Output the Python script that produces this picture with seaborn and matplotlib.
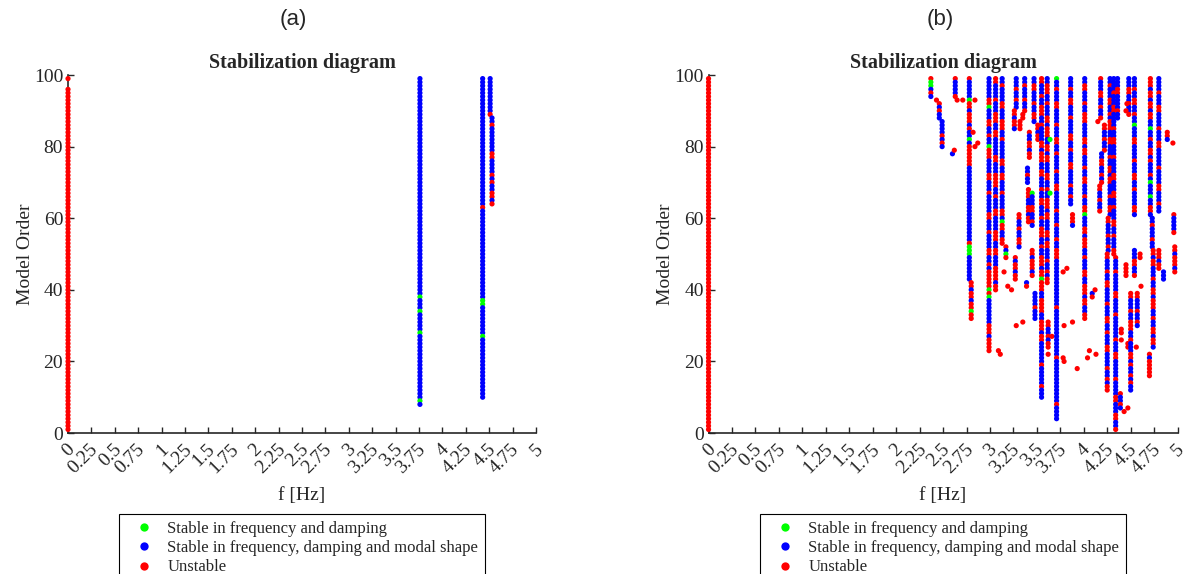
import numpy as np
import pandas as pd
import matplotlib
matplotlib.use("Agg")
import matplotlib.pyplot as plt
import matplotlib.transforms as mtransforms
import seaborn as sns

# legend labels / colours
LABEL_G = "Stable in frequency and damping"
LABEL_B = "Stable in frequency, damping and modal shape"
LABEL_R = "Unstable"
status_labels = {"g": LABEL_G, "b": LABEL_B, "r": LABEL_R}
palette = {LABEL_G: "#00ff00", LABEL_B: "#0000ff", LABEL_R: "#ff0000"}
hue_order = [LABEL_G, LABEL_B, LABEL_R]

panel_titles = ["(a)", "(b)"]
x_ticks = np.arange(0, 5.25, 0.25)
y_ticks = [0, 20, 40, 60, 80, 100]

# chains of poles: (frequency Hz, highest model order, run-length status going down)
# r = unstable, b = stable freq/damping/shape, g = stable freq/damping, . = no pole
chains_a = [
    (0.00, 99, "r1 .2 r96"),
    (3.76, 99, "b61 g1 b3 g1 b5 g1 b18 g1 b1"),
    (4.43, 99, "b36 r1 b25 g2 b8 g1 b17"),
    (4.51, 99, "b10 r1"),
    (4.53, 88, "b2 r1 b7 r2 b4 r1 b1 r1 b2 r2 b1 r1"),
]

chains_b_left = [
    (0.00, 99, "r99"),
    (2.37, 99, "r1 g2 b1 r1 b1"),
    (2.43, 93, "r1"),
    (2.46, 92, "r1 b1 r1 b2"),
    (2.49, 87, "b4 r1 b1 r1 b1"),
    (2.60, 78, "b1"),
    (2.62, 79, "r1"),
    (2.63, 99, "r1 b4 r1"),
    (2.65, 93, "r1"),
    (2.71, 93, "r1"),
    (2.84, 93, "r1"),
    (2.78, 99, "r1 b5 g1 r2 b1 r3 b1 r1 b2 g1 b1 r6 b21 r1 g3 b7"),
    (2.80, 42, "r2 b1 r2 b1 r2 g1 r2"),
    (2.82, 84, "r1"),
    (2.87, 81, "r1"),
    (2.84, 80, "r1"),
    (2.99, 99, "b6 r2 g1 b3 r2 b2 r1 b2 g1 r3 b4 r2 b3 r1 b5 r2 b3 r1 b4 r2 b2 r1 b1 r5 g1 r1 g1 b7 r3 b1 r4"),
    (3.06, 99, "r2 b4 r1 b3 r3 b2 r2 b5 r2 b3 r4 b2 r1 b3 r2 b4 r3 b2 r2 b3 r4 b1 r2"),
    (3.09, 23, "r1"),
    (3.11, 22, "r1"),
    (3.13, 99, "b2 r1 b4 r2 b3 r3 b2 r1 b5 r2 b2 r2 b3 r1 b4 r2 b1 g1 r2 b2 r2"),
    (3.17, 52, "r1 b1 g1 r1"),
    (3.15, 45, "r1"),
    (3.19, 41, "r1"),
    (3.23, 40, "r1"),
]

chains_b_mid = [
    (3.28, 99, "b3 r1 b2 r1 b2"),
    (3.26, 90, "r2 b1 r2 b1"),
    (3.32, 87, "r3"),
    (3.37, 99, "b2 r1 b3 r1 b2 r1"),
    (3.35, 89, "r2"),
    (3.42, 84, "r1 b2 r2 b1 r2"),
    (3.40, 74, "b2 r1 b2"),
    (3.41, 68, "r3 b2 r2 b1 r2"),
    (3.31, 61, "r2 b2 r1 b2 r2 b1"),
    (3.27, 49, "r1 b1 r2 b1 r2"),
    (3.47, 99, "b2 r2 b3 r1 b2 r2 b1"),
    (3.51, 86, "r2 b1 r2"),
    (3.45, 67, "g1 b3 r2 b2 r1 b1"),
    (3.45, 51, "r2 b1 r3 b1 r1"),
    (3.39, 42, "b1 r1"),
    (3.48, 39, "b4 r1 b3"),
    (3.28, 30, "r1"),
    (3.35, 31, "r1"),
    (3.55, 99, "r2 b3 r1 b2 r3 b2 r1 b4 r2 b1 r3 b2 r2 b3 r1 b2 r2 b3 r1 b2 r3 b2 r1 b2 "
               "r3 b1 r2 g1 r3 b2 r4 b2 r3 b1 r2 b6 r1 b5 r1 b3"),
    (3.61, 99, "b2 r3 b2 r1 b3 r2 b1 r3 b2 r2 b1 r2 b3 r2 b2 r1 b2 r3 b1 r2 b3 r2 b1 r2 b3 r1 b2 r1 b1 r2"),
    (3.62, 31, "r2 b2 r1 b1 r2 .1 r1"),
    (3.66, 27, "r1"),
    (3.64, 82, "g1"),
    (3.64, 67, "g1"),
    (3.71, 99, "g1 b2 r1 b3 r2 b4 r1 b3 r2 b2 r1 b4 r1 b3 r2 b5 r1 b3 r1 b3 r1 b2 "
               "r3 b13 r1 b13 r1 b12 r1 b4"),
    (3.86, 99, "b3 r1 b2 r2 b3 r1 b4 r2 b2 r1 b3 r2 b4 r1 b2 r1 b2"),
    (3.88, 61, "r3 b1"),
    (3.78, 45, "r1"),
    (3.82, 46, "r1"),
    (3.79, 30, "r1"),
    (3.88, 31, "r1"),
    (3.78, 21, "r1"),
    (3.79, 20, "r1"),
    (3.93, 18, "r1"),
]

chains_b_right = [
    (4.01, 99, "b2 r2 b3 r1 b2 r3 b4 r2 b1 r2 b3 r1 b2 r2 b3 r1 b2 r2 g1 "
               "b3 r2 b1 r3 b2 r1 b3 r2 b2 r3 b1 r2 b2 r2"),
    (4.04, 21, "r1"),
    (4.06, 23, "r1"),
    (4.13, 22, "r1"),
    (4.09, 39, "b1 r1"),
    (4.12, 40, "r1"),
    (4.18, 99, "r1 b3 r2 b2 r1 b2 r1"),
    (4.15, 87, "r1"),
    (4.22, 86, "r2 b2 r1 b2 r1"),
    (4.19, 78, "b2 r2 b2 r1 b1 r1"),
    (4.17, 69, "r2 b2 r1 b2 r1"),
    (4.28, 99, "b2 r1 b3 r2 b2 r1 b1 r3 b2 r2 b3 r1 b2 r2 b1 r2 b3 r1 b2 r2 b1"),
    (4.26, 60, "r2 b3 r1 b2 r1 b1"),
    (4.25, 50, "r2 b3 r1 b2 r2 b4 r1 b3 r2 b2 r1 b3 r2 b4 r1 b2 r1 b1 r2"),
    (4.32, 99, "b4 r1 b3 r2 b4 r1 b2 r2 b3 r1 b4 r2 b3 r2 b2 r1 b3 r2 b2 r1 b3 r2"),
    (4.36, 99, "b3 r2 b4 r1 b2"),
    (4.34, 49, "r1 b3 r1 b5 r2 b4 r1 b6 r1 b3 r2 b5 r1 b4 r2 b3 r2 b2 r1"),
    (4.39, 11, "r1 b2 r1 b1"),
    (4.43, 6, "r1"),
    (4.47, 7, "r1"),
    (4.40, 29, "r2 .1 r1"),
    (4.45, 47, "r4"),
    (4.47, 25, "r2"),
    (4.48, 99, "b3 r2 b2 r1 b2 r1"),
    (4.46, 92, "r1"),
    (4.45, 90, "r1"),
    (4.50, 39, "r2 b3 r1 b2 r3 b2 r1 b3 r2 b1 r1 b2 r1 b1 r1 b2"),
    (4.54, 99, "b3 r1 b2 r2 b2 r1 b2 g1 b3 r2 b4 r1 b3 r2 b2 r1 b4 r2 b1"),
    (4.54, 51, "b3 r2 b2 r1"),
    (4.57, 39, "r2 b3 r1 b2 r1 b1"),
    (4.56, 24, "r1"),
    (4.60, 50, "r2"),
    (4.61, 41, "r1"),
    (4.71, 99, "r3 b1 r2 b1 r2 b1 r2 b2 g1 b2 r1 b2 r2 b1 r1 b3 r1 b1 g1 b3 g1 b2 r2 b1"),
    (4.73, 60, "b2 r1 b3 r1 b2"),
    (4.74, 51, "r2 b1 r2 b3 r1 b2 r2 b1 r3 b2 r1 b2 r2 b1 r2 b1"),
    (4.70, 22, "r1 b1 r5"),
    (4.80, 99, "b4 r1 b3 r2 b4 r1 b3 r2 b5 r1 b4 r2 b3 r1 b2"),
    (4.80, 51, "r3 b1 r2"),
    (4.85, 45, "b3"),
    (4.89, 84, "r2 b1"),
    (4.95, 81, "r1"),
    (4.96, 61, "r1 b4 r1"),
    (4.97, 52, "r2 b1 r3 b1 r1"),
]


def expand_chains(chains):
    """Turn the run-length chains into one row per pole."""
    rows = []
    for freq, top, pattern in chains:
        order = top
        for tok in pattern.split():
            code, n = tok[0], int(tok[1:])
            for _ in range(n):
                if code != ".":
                    rows.append((freq, order, status_labels[code]))
                order -= 1
    return pd.DataFrame(rows, columns=["freq", "order", "status"])


df_a = expand_chains(chains_a)
df_b = expand_chains(chains_b_left + chains_b_mid + chains_b_right)

sns.set_style("ticks")
plt.rcParams["font.family"] = ["Liberation Serif", "DejaVu Serif"]
axis_color = "#262626"

fig = plt.figure(figsize=(11.89, 5.74), dpi=100)
ax_a = fig.add_axes([0.0572, 0.2456, 0.3936, 0.6237])
ax_b = fig.add_axes([0.5959, 0.2456, 0.3945, 0.6237])

# rotated x labels: end of the text a bit right of / below the tick (matlab style)
label_shift = mtransforms.ScaledTranslation(4 / 100, -14 / 100, fig.dpi_scale_trans)

for ax, df, tag, xc in [(ax_a, df_a, panel_titles[0], 293), (ax_b, df_b, panel_titles[1], 940)]:
    sns.scatterplot(data=df, x="freq", y="order", hue="status", hue_order=hue_order,
                    palette=palette, s=14, linewidth=0, ax=ax, clip_on=False, zorder=3)
    ax.set_xlim(0, 5)
    ax.set_ylim(0, 100)
    ax.set_xticks(x_ticks)
    ax.set_xticklabels([])
    tick_trans = mtransforms.blended_transform_factory(ax.transData, ax.transAxes) + label_shift
    for v in x_ticks:
        ax.text(v, 0, f"{v:g}", transform=tick_trans, rotation=45, ha="right", va="center",
                rotation_mode="anchor", fontsize=14, color=axis_color)
    ax.set_yticks(y_ticks)
    ax.tick_params(direction="in", length=4, width=1, colors=axis_color,
                   labelsize=14, labelcolor=axis_color)
    sns.despine(ax=ax)
    for side in ["left", "bottom"]:
        ax.spines[side].set_color(axis_color)
        ax.spines[side].set_linewidth(1.2)
    ax.set_xlabel("f [Hz]", fontsize=14, color=axis_color)
    ax.xaxis.set_label_coords(0.5, -0.15)
    ax.set_ylabel("Model Order", fontsize=14, color=axis_color, labelpad=0)
    ax.set_title("Stabilization diagram", fontsize=14.5, fontweight="bold", pad=5)
    fig.text(xc / 1189, 1 - 20 / 574, tag, ha="center", va="center",
             fontsize=16, family=["Liberation Sans", "DejaVu Sans"])
    sns.move_legend(ax, "upper center", bbox_to_anchor=(0.5, -0.204), title=None,
                    frameon=True, fancybox=False, edgecolor="black", fontsize=12,
                    markerscale=1.6, labelspacing=0.2, borderpad=0.38,
                    handlelength=2.2, handletextpad=0.3, framealpha=1)
    ax.get_legend().get_frame().set_linewidth(0.8)

fig.savefig("out.png", dpi=100)
